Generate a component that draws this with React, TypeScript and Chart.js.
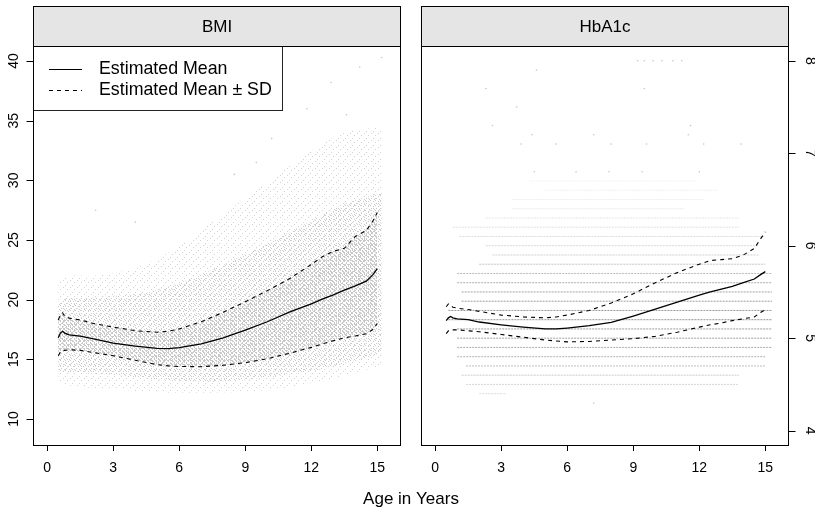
import React, { useEffect, useRef } from 'react';
import { Chart, registerables } from 'chart.js';

Chart.register(...registerables);

// ---------------- data ----------------
const panelTitles = ['BMI', 'HbA1c'];
const xTitle = 'Age in Years';
const legendLabels = ['Estimated Mean', 'Estimated Mean \u00b1 SD'];

const xTicks = [0, 3, 6, 9, 12, 15];
const bmiTicks = [10, 15, 20, 25, 30, 35, 40];
const hbTicks = [4, 5, 6, 7, 8];

const ageGrid = [0.5, 0.6, 0.7, 0.8, 1, 1.5, 2, 3, 4, 5, 5.5, 6, 7, 8, 9, 10, 11, 12, 12.5, 13, 13.5, 14, 14.5, 14.8, 15];

const bmiMean = [16.8, 17.2, 17.35, 17.2, 17.05, 16.95, 16.75, 16.35, 16.1, 15.92, 15.9, 15.98, 16.3, 16.8, 17.45, 18.15, 18.95, 19.65, 20.05, 20.4, 20.8, 21.15, 21.55, 22.1, 22.6];
const bmiUpper = [18.3, 18.7, 18.9, 18.6, 18.45, 18.3, 18.05, 17.7, 17.4, 17.27, 17.35, 17.55, 18.15, 18.95, 19.83, 20.75, 21.75, 22.95, 23.6, 24.05, 24.3, 25.3, 25.8, 26.6, 27.3];
const bmiLower = [15.3, 15.6, 15.75, 15.75, 15.8, 15.75, 15.6, 15.3, 14.92, 14.55, 14.45, 14.4, 14.38, 14.5, 14.72, 15.05, 15.5, 16.0, 16.3, 16.55, 16.8, 16.95, 17.15, 17.5, 18.0];

const hbMean = [5.19, 5.22, 5.235, 5.22, 5.21, 5.2, 5.175, 5.145, 5.12, 5.1, 5.1, 5.11, 5.135, 5.17, 5.24, 5.315, 5.39, 5.465, 5.5, 5.53, 5.56, 5.6, 5.64, 5.69, 5.72];
const hbUpper = [5.34, 5.37, 5.36, 5.335, 5.325, 5.31, 5.29, 5.25, 5.23, 5.22, 5.23, 5.25, 5.3, 5.38, 5.48, 5.6, 5.71, 5.8, 5.84, 5.85, 5.86, 5.9, 5.97, 6.08, 6.15];
const hbLower = [5.05, 5.08, 5.09, 5.09, 5.09, 5.08, 5.07, 5.04, 5.01, 4.98, 4.97, 4.96, 4.965, 4.98, 4.995, 5.02, 5.065, 5.12, 5.145, 5.165, 5.19, 5.21, 5.23, 5.28, 5.31];

const cloudAge = [0.5, 1, 2, 3, 4.5, 6, 7.5, 9, 10.5, 12, 13.5, 15.2];
const cloudOuterLo = [13.2, 12.8, 12.6, 12.5, 12.3, 12.2, 12.2, 12.3, 12.5, 13.0, 13.6, 14.5];
const cloudOuterHi = [21.5, 22.0, 22.0, 22.2, 23.0, 24.5, 26.5, 28.5, 30.5, 32.5, 34.0, 34.5];
const cloudInnerLo = [14.0, 13.9, 13.8, 13.7, 13.4, 13.2, 13.1, 13.3, 13.6, 14.0, 14.6, 15.5];
const cloudInnerHi = [19.8, 20.2, 20.2, 20.3, 20.6, 21.4, 22.5, 23.8, 25.2, 26.6, 28.0, 29.0];
const bmiOutAge = [2.2, 4.0, 8.5, 9.5, 10.2, 11.8, 12.9, 13.6, 14.2, 15.2];
const bmiOutVal = [27.5, 26.5, 30.5, 31.5, 33.5, 36.0, 38.2, 35.5, 39.5, 40.3];

// HbA1c observations: discrete measurement levels (rows of points)
const hbLevels = [4.4, 4.5, 4.6, 4.7, 4.8, 4.9, 5.0, 5.1, 5.2, 5.3, 5.4, 5.5, 5.6, 5.7, 5.8, 5.9, 6.0, 6.1, 6.2, 6.3, 6.4, 6.5, 6.6, 6.7];
const hbStart = [2.0, 1.4, 1.2, 1.4, 1.0, 1.0, 1.0, 1.0, 0.6, 0.6, 1.2, 1.2, 1.0, 1.0, 2.0, 2.6, 2.3, 1.1, 0.8, 2.3, 3.5, 3.5, 5.0, 4.3];
const hbEnd = [3.2, 13.8, 13.8, 15.0, 15.0, 15.3, 15.3, 15.3, 15.3, 15.3, 15.3, 15.3, 15.3, 15.3, 15.0, 14.7, 14.7, 15.0, 13.8, 13.8, 11.3, 12.2, 12.8, 11.9];
const hbShade = [0.3, 0.35, 0.45, 0.55, 0.65, 0.7, 0.8, 0.85, 0.95, 0.9, 0.85, 0.8, 0.7, 0.6, 0.5, 0.42, 0.35, 0.3, 0.25, 0.22, 0.18, 0.15, 0.15, 0.12];
const hbOutAge = [9.2, 9.5, 9.9, 10.3, 10.8, 11.2, 4.6, 2.3, 9.5, 3.7, 2.6, 11.6, 4.4, 7.2, 11.5, 3.9, 5.5, 8.0, 9.6, 12.2, 13.9, 4.5, 6.4, 7.9, 9.4, 12.0, 7.2];
const hbOutVal = [8.0, 8.0, 8.0, 8.0, 8.0, 8.0, 7.9, 7.7, 7.7, 7.5, 7.3, 7.3, 7.2, 7.2, 7.2, 7.1, 7.1, 7.1, 7.1, 7.1, 7.1, 6.8, 6.8, 6.8, 6.8, 6.8, 4.3];

// ---------------- layout / style ----------------
const W = 815;
const H = 514;
const FONT = '"Liberation Sans", Arial, Helvetica, sans-serif';
const X_MIN = -0.6;
const X_MAX = 16.03;
const BMI_RANGE = [7.82, 41.26];
const HB_RANGE = [3.845, 8.16];
const STRIP_TOP = 6;

const pts = (xs: number[], ys: number[]) => xs.map((x, i) => ({ x, y: ys[i] }));

function stipple(ctx: CanvasRenderingContext2D, size: number, dots: number[][], color: string) {
  const c = document.createElement('canvas');
  c.width = size;
  c.height = size;
  const g = c.getContext('2d')!;
  g.fillStyle = color;
  dots.forEach(([x, y]) => g.fillRect(x, y, 1, 1));
  return ctx.createPattern(c, 'repeat');
}

function decorPlugin(o: { title: string; side: 'left' | 'right'; yTicks: number[]; legend: boolean; xTitle: boolean }) {
  return {
    id: 'decor' + o.side,
    afterDraw(chart: any) {
      const ctx: CanvasRenderingContext2D = chart.ctx;
      const a = chart.chartArea;
      const ys = chart.scales.y;
      const lx = Math.round(a.left) - 0.5;
      const rx = Math.round(a.right) + 0.5;
      const ty = Math.round(a.top) + 0.5;
      const by = Math.round(a.bottom) + 0.5;
      ctx.save();
      ctx.lineWidth = 1;
      ctx.strokeStyle = '#000';
      ctx.setLineDash([]);

      // legend
      if (o.legend) {
        const bx1 = 282.5;
        const by1 = 110.5;
        ctx.fillStyle = '#fff';
        ctx.fillRect(lx, ty, bx1 - lx, by1 - ty);
        ctx.strokeStyle = '#222';
        ctx.strokeRect(lx, ty, bx1 - lx, by1 - ty);
        ctx.strokeStyle = '#000';
        ctx.lineWidth = 1.2;
        ctx.beginPath();
        ctx.moveTo(49, 69.5);
        ctx.lineTo(82, 69.5);
        ctx.stroke();
        ctx.lineWidth = 1.1;
        ctx.setLineDash([4, 4]);
        ctx.beginPath();
        ctx.moveTo(49, 90.5);
        ctx.lineTo(82, 90.5);
        ctx.stroke();
        ctx.setLineDash([]);
        ctx.lineWidth = 1;
        ctx.fillStyle = '#000';
        ctx.font = `17.8px ${FONT}`;
        ctx.textAlign = 'left';
        ctx.textBaseline = 'middle';
        ctx.fillText(legendLabels[0], 99, 69);
        ctx.fillText(legendLabels[1], 99, 90);
      }

      // frame
      ctx.strokeStyle = '#000';
      ctx.strokeRect(lx, ty, rx - lx, by - ty);

      // strip
      const st = STRIP_TOP + 0.5;
      ctx.fillStyle = '#e5e5e5';
      ctx.fillRect(lx, st, rx - lx, ty - st);
      ctx.strokeRect(lx, st, rx - lx, ty - st);
      ctx.fillStyle = '#000';
      ctx.font = `17px ${FONT}`;
      ctx.textAlign = 'center';
      ctx.textBaseline = 'middle';
      ctx.fillText(o.title, (a.left + a.right) / 2, (STRIP_TOP + a.top) / 2 + 1);

      // y axis ticks + rotated labels
      ctx.font = `14px ${FONT}`;
      o.yTicks.forEach((v) => {
        const y = ys.getPixelForValue(v);
        const yy = Math.round(y) + 0.5;
        ctx.beginPath();
        if (o.side === 'left') {
          ctx.moveTo(lx, yy);
          ctx.lineTo(lx - 7, yy);
        } else {
          ctx.moveTo(rx, yy);
          ctx.lineTo(rx + 7, yy);
        }
        ctx.stroke();
        ctx.save();
        if (o.side === 'left') {
          ctx.translate(14.5, y);
          ctx.rotate(-Math.PI / 2);
        } else {
          ctx.translate(rx + 21, y);
          ctx.rotate(Math.PI / 2);
        }
        ctx.fillText(String(v), 0, 0);
        ctx.restore();
      });

      if (o.xTitle) {
        ctx.font = `17px ${FONT}`;
        ctx.fillText(xTitle, 411, 499);
      }
      ctx.restore();
    },
  };
}

function xScale() {
  return {
    type: 'linear',
    min: X_MIN,
    max: X_MAX,
    afterBuildTicks: (s: any) => {
      s.ticks = xTicks.map((v) => ({ value: v }));
    },
    afterFit: (s: any) => {
      s.height = 69;
    },
    ticks: { font: { family: FONT, size: 14 }, color: '#000', padding: 9, maxRotation: 0, autoSkip: false },
    grid: { drawOnChartArea: false, drawTicks: true, tickLength: 6, color: '#000', lineWidth: 1 },
    border: { display: false },
  };
}

function curveSets(mean: number[], upper: number[], lower: number[]) {
  const common = { pointRadius: 0, tension: 0, fill: false };
  return [
    { ...common, data: pts(ageGrid, mean), borderColor: '#000', borderWidth: 1.3 },
    { ...common, data: pts(ageGrid, upper), borderColor: '#000', borderWidth: 1.1, borderDash: [4, 4] },
    { ...common, data: pts(ageGrid, lower), borderColor: '#000', borderWidth: 1.1, borderDash: [4, 4] },
  ];
}

function baseOptions(pad: any, yRange: number[]) {
  return {
    responsive: false,
    animation: false,
    devicePixelRatio: 1,
    events: [],
    layout: { padding: pad },
    plugins: { legend: { display: false }, tooltip: { enabled: false } },
    scales: {
      x: xScale(),
      y: { type: 'linear', min: yRange[0], max: yRange[1], display: false },
    },
  };
}

export default function App() {
  const leftRef = useRef<HTMLCanvasElement>(null);
  const rightRef = useRef<HTMLCanvasElement>(null);

  useEffect(() => {
    const lc = leftRef.current!;
    const rc = rightRef.current!;
    const ctx = lc.getContext('2d')!;
    const pOuter = stipple(ctx, 7, [[0, 0], [4, 2], [2, 5]], '#d2d2d2');
    const pInner = stipple(ctx, 5, [[0, 0], [3, 1], [1, 3], [4, 4]], '#cacaca');
    const pCore = stipple(ctx, 4, [[0, 0], [0, 1], [2, 2], [2, 3], [3, 0]], '#c8c8c8');

    const band = { pointRadius: 0, borderWidth: 0, borderColor: 'rgba(0,0,0,0)', tension: 0.3 };

    const bmiSets: any[] = [
      ...curveSets(bmiMean, bmiUpper, bmiLower),
      { data: pts(bmiOutAge, bmiOutVal), showLine: false, pointRadius: 0.8, pointBorderWidth: 0, pointBackgroundColor: '#c4c4c4', fill: false },
      { ...band, tension: 0, data: pts(ageGrid, bmiUpper), fill: 5, backgroundColor: pCore },
      { ...band, tension: 0, data: pts(ageGrid, bmiLower), fill: false },
      { ...band, data: pts(cloudAge, cloudInnerHi), fill: 7, backgroundColor: pInner },
      { ...band, data: pts(cloudAge, cloudInnerLo), fill: false },
      { ...band, data: pts(cloudAge, cloudOuterHi), fill: 9, backgroundColor: pOuter },
      { ...band, data: pts(cloudAge, cloudOuterLo), fill: false },
    ];

    const hbSets: any[] = [
      ...curveSets(hbMean, hbUpper, hbLower),
      { data: pts(hbOutAge, hbOutVal), showLine: false, pointRadius: 0.8, pointBorderWidth: 0, pointBackgroundColor: '#c4c4c4', fill: false },
      ...hbLevels.map((lv, i) => ({
        data: [{ x: hbStart[i], y: lv }, { x: hbEnd[i], y: lv }],
        borderColor: `rgba(140,140,140,${hbShade[i]})`,
        borderWidth: 1,
        borderDash: [2, 1],
        pointRadius: 0,
        fill: false,
      })),
    ];

    const c1 = new Chart(lc, {
      type: 'line',
      data: { datasets: bmiSets },
      options: baseOptions({ left: 34, right: W - 400, top: 46, bottom: 0 }, BMI_RANGE) as any,
      plugins: [decorPlugin({ title: panelTitles[0], side: 'left', yTicks: bmiTicks, legend: true, xTitle: true })],
    });
    const c2 = new Chart(rc, {
      type: 'line',
      data: { datasets: hbSets },
      options: baseOptions({ left: 422, right: W - 788, top: 46, bottom: 0 }, HB_RANGE) as any,
      plugins: [decorPlugin({ title: panelTitles[1], side: 'right', yTicks: hbTicks, legend: false, xTitle: false })],
    });
    return () => {
      c1.destroy();
      c2.destroy();
    };
  }, []);

  const cs: React.CSSProperties = { position: 'absolute', left: 0, top: 0, width: W, height: H };
  return (
    <div style={{ position: 'fixed', left: 0, top: 0, width: W, height: H, background: '#fff' }}>
      <canvas ref={leftRef} width={W} height={H} style={cs} />
      <canvas ref={rightRef} width={W} height={H} style={cs} />
    </div>
  );
}
